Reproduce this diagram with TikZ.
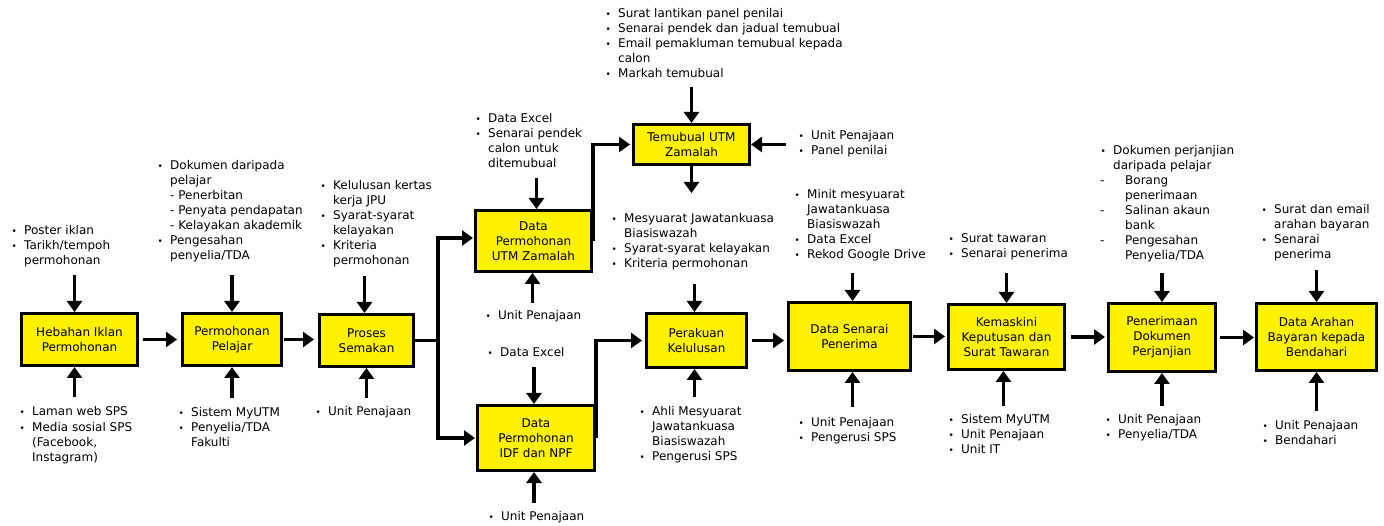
\documentclass[tikz,border=0pt]{standalone}
\usepackage{fontspec}
\setmainfont{DejaVu Sans}
\usetikzlibrary{arrows.meta}

\newcommand{\bul}{\makebox[13pt][l]{\hspace{0.5pt}\fontsize{9}{9}\selectfont •}}
\newcommand{\plist}[1]{\begin{tabular}[t]{@{}l@{}l@{}}#1\end{tabular}}

\begin{document}
\begin{tikzpicture}[x=1pt,y=1pt,yscale=-1,xscale=1,
  stage/.style 2 args={draw, line width=3pt, fill=yellow, align=center, inner sep=1pt,
    minimum width=#1, minimum height=#2, font=\fontsize{12}{15}\selectfont},
  note/.style={anchor=base west, inner sep=0pt, font=\fontsize{12}{15}\selectfont},
  link/.style={line width=3.5pt},
  flow/.style={line width=3.5pt, -{Triangle[length=11pt,width=15pt]}},
  inflow/.style={line width=3.5pt, {Triangle[length=11pt,width=15pt]}-}]
\useasboundingbox (0,0) rectangle (1384,526);

%Shape: Rectangle (main stages)
\node[stage={116pt}{52pt}] (hebahan) at (79.5,339.5) {Hebahan Iklan\\Permohonan};
\node[stage={99pt}{52pt}] (permohonan) at (232,339.5) {Permohonan\\Pelajar};
\node[stage={94pt}{52pt}] (proses) at (366.5,340.5) {Proses\\Semakan};
\node[stage={116pt}{61pt}] (utm) at (533.5,241) {Data\\Permohonan\\UTM Zamalah};
\node[stage={117pt}{65pt}] (idf) at (536,438) {Data\\Permohonan\\IDF dan NPF};
\node[stage={116pt}{40pt}] (temubual) at (691.5,144.5) {Temubual UTM\\Zamalah};
\node[stage={100pt}{54pt}] (perakuan) at (696.5,340.5) {Perakuan\\Kelulusan};
\node[stage={122pt}{68pt}] (senarai) at (849.5,336.5) {Data Senarai\\Penerima};
\node[stage={116pt}{65pt}] (kemaskini) at (1006.5,337) {Kemaskini\\Keputusan dan\\Surat Tawaran};
\node[stage={107pt}{68pt}] (penerimaan) at (1162,337.5) {Penerimaan\\Dokumen\\Perjanjian};
\node[stage={120pt}{67pt}] (arahan) at (1316.5,337) {Data Arahan\\Bayaran kepada\\Bendahari};

%Straight Lines (main flow)
\draw[flow, shorten <=4pt, shorten >=4pt] (hebahan.east) -- (hebahan.east -| permohonan.west);
\draw[flow, shorten <=1pt, shorten >=4pt] (permohonan.east) -- (permohonan.east -| proses.west);
\coordinate (split) at ([xshift=23pt]proses.east);
\draw[link] (proses.east) -- (split);
\draw[flow, shorten >=1pt] (split) |- ([yshift=-3pt]utm.west);
\draw[flow, shorten >=1pt] (split) |- (idf.west);
\draw[flow, shorten >=2pt] (utm.east) |- (temubual.west);
\draw[flow, shorten >=3pt] (idf.east) |- (perakuan.west);
\draw[flow, shorten <=4pt, shorten >=3pt] (perakuan.east) -- (perakuan.east -| senarai.west);
\draw[flow, shorten <=1pt, shorten >=2pt] (senarai.east) -- (senarai.east -| kemaskini.west);
\draw[flow, shorten <=5pt, shorten >=2pt] (kemaskini.east) -- (kemaskini.east -| penerimaan.west);
\draw[flow, shorten <=3pt, shorten >=1pt] (penerimaan.east) -- (penerimaan.east -| arahan.west);
\draw[flow] (temubual.south) -- ++(0,27);

%Straight Lines (inputs and resources)
\draw[inflow] ([xshift=-5pt]hebahan.north) -- ++(0,-37);
\draw[inflow] ([xshift=-5pt]hebahan.south) -- ++(0,30);
\draw[inflow] (permohonan.north) -- ++(0,-37);
\draw[inflow] (permohonan.south) -- ++(0,31);
\draw[inflow] ([xshift=-2pt]proses.north) -- ++(0,-37);
\draw[inflow] (proses.south) -- ++(0,30);
\draw[inflow] ([xshift=3pt]utm.north) -- ++(0,-31);
\draw[inflow] ([xshift=-1pt]utm.south) -- ++(0,30);
\draw[inflow] ([xshift=-2pt]idf.north) -- ++(0,-37);
\draw[inflow] ([xshift=-2pt]idf.south) -- ++(0,31);
\draw[inflow] (temubual.north) -- ++(0,-36);
\draw[inflow] (temubual.east) -- ++(35,0);
\draw[inflow] ([xshift=-2pt]perakuan.north) -- ++(0,-28);
\draw[inflow] ([xshift=-2pt]perakuan.south) -- ++(0,28);
\draw[inflow] ([xshift=3pt]senarai.north) -- ++(0,-28);
\draw[inflow] ([xshift=3pt]senarai.south) -- ++(0,35);
\draw[inflow] (kemaskini.north) -- ++(0,-30);
\draw[inflow] ([xshift=-3pt]kemaskini.south) -- ++(0,35);
\draw[inflow] (penerimaan.north) -- ++(0,-29);
\draw[inflow] (penerimaan.south) -- ++(0,33);
\draw[inflow] (arahan.north) -- ++(0,-32);
\draw[inflow] (arahan.south) -- ++(0,39);

% Text Node
\node[note] (hebahanIn) at (11,235) {\plist{\bul & Poster iklan\\ \bul & Tarikh/tempoh\\ & permohonan}};
% Text Node
\node[note] (hebahanRes) at (19,416) {\plist{\bul & Laman web SPS\\ \bul & Media sosial SPS\\ & (Facebook,\\ & Instagram)}};
% Text Node
\node[note] (permohonanIn) at (157,170) {\plist{\bul & Dokumen daripada\\ & pelajar\\ & - Penerbitan\\ & - Penyata pendapatan\\ & - Kelayakan akademik\\ \bul & Pengesahan\\ & penyelia/TDA}};
% Text Node
\node[note] (permohonanRes) at (178,417) {\plist{\bul & Sistem MyUTM\\ \bul & Penyelia/TDA\\ & Fakulti}};
% Text Node
\node[note] (prosesIn) at (320,190) {\plist{\bul & Kelulusan kertas\\ & kerja JPU\\ \bul & Syarat-syarat\\ & kelayakan\\ \bul & Kriteria\\ & permohonan}};
% Text Node
\node[note] (prosesRes) at (315,416) {\plist{\bul & Unit Penajaan}};
% Text Node
\node[note] (utmIn) at (475,123) {\plist{\bul & Data Excel\\ \bul & Senarai pendek\\ & calon untuk\\ & ditemubual}};
% Text Node
\node[note] (utmRes) at (485,320) {\plist{\bul & Unit Penajaan}};
% Text Node
\node[note] (idfIn) at (487,357) {\plist{\bul & Data Excel}};
% Text Node
\node[note] (idfRes) at (488,520) {\plist{\bul & Unit Penajaan}};
% Text Node
\node[note] (temubualIn) at (605,18) {\plist{\bul & Surat lantikan panel penilai\\ \bul & Senarai pendek dan jadual temubual\\ \bul & Email pemakluman temubual kepada\\ & calon\\ \bul & Markah temubual}};
% Text Node
\node[note] (temubualRes) at (798,140) {\plist{\bul & Unit Penajaan\\ \bul & Panel penilai}};
% Text Node
\node[note] (perakuanIn) at (611,223) {\plist{\bul & Mesyuarat Jawatankuasa\\ & Biasiswazah\\ \bul & Syarat-syarat kelayakan\\ \bul & Kriteria permohonan}};
% Text Node
\node[note] (perakuanRes) at (639,415) {\plist{\bul & Ahli Mesyuarat\\ & Jawatankuasa\\ & Biasiswazah\\ \bul & Pengerusi SPS}};
% Text Node
\node[note] (senaraiIn) at (794,199) {\plist{\bul & Minit mesyuarat\\ & Jawatankuasa\\ & Biasiswazah\\ \bul & Data Excel\\ \bul & Rekod Google Drive}};
% Text Node
\node[note] (senaraiRes) at (798,426) {\plist{\bul & Unit Penajaan\\ \bul & Pengerusi SPS}};
% Text Node
\node[note] (kemaskiniIn) at (948,243) {\plist{\bul & Surat tawaran\\ \bul & Senarai penerima}};
% Text Node
\node[note] (kemaskiniRes) at (948,424) {\plist{\bul & Sistem MyUTM\\ \bul & Unit Penajaan\\ \bul & Unit IT}};
% Text Node
\node[note] (penerimaanIn) at (1100,155) {\plist{\bul & Dokumen perjanjian\\ & daripada pelajar\\ - & \hspace*{12pt}Borang\\ & \hspace*{12pt}penerimaan\\ - & \hspace*{12pt}Salinan akaun\\ & \hspace*{12pt}bank\\ - & \hspace*{12pt}Pengesahan\\ & \hspace*{12pt}Penyelia/TDA}};
% Text Node
\node[note] (penerimaanRes) at (1105,424) {\plist{\bul & Unit Penajaan\\ \bul & Penyelia/TDA}};
% Text Node
\node[note] (arahanIn) at (1261,214) {\plist{\bul & Surat dan email\\ & arahan bayaran\\ \bul & Senarai\\ & penerima}};
% Text Node
\node[note] (arahanRes) at (1262,429) {\plist{\bul & Unit Penajaan\\ \bul & Bendahari}};

\end{tikzpicture}
\end{document}
